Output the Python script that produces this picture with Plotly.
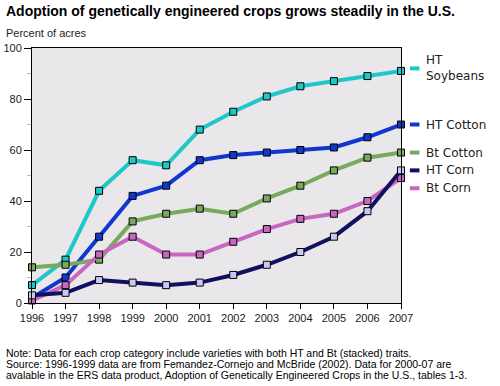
import plotly.graph_objects as go

years = list(range(1996, 2008))
ht_soybeans = [7, 17, 44, 56, 54, 68, 75, 81, 85, 87, 89, 91]
ht_cotton = [2, 10, 26, 42, 46, 56, 58, 59, 60, 61, 65, 70]
bt_cotton = [14, 15, 17, 32, 35, 37, 35, 41, 46, 52, 57, 59]
bt_corn = [1, 7, 19, 26, 19, 19, 24, 29, 33, 35, 40, 49]
ht_corn = [3, 4, 9, 8, 7, 8, 11, 15, 20, 26, 36, 52]

series = [
    ("HT<br>Soybeans", ht_soybeans, "#1ec8c8", "#1ec8c8", 92),
    ("HT Cotton", ht_cotton, "#1038d0", "#1038d0", 70),
    ("Bt Cotton", bt_cotton, "#7aa85c", "#7aa85c", 59),
    ("Bt Corn", bt_corn, "#c866c0", "#c866c0", 45),
    ("HT Corn", ht_corn, "#101060", "#c8c8f4", 52),
]

note_lines = [
    "Note: Data for each crop category include varieties with both HT and Bt (stacked) traits.",
    "Source: 1996-1999 data are from Femandez-Cornejo and McBride (2002). Data for 2000-07 are",
    "avalable in the ERS data product, Adoption of Genetically Engineered Crops in the U.S., tables 1-3.",
]

PLOT_H = 255.0
PLOT_W = 369.0

def py(px_from_top):
    return (303 - px_from_top) / PLOT_H

fig = go.Figure()
for name, vals, lc, mc, ly in series:
    fig.add_trace(go.Scatter(
        x=years, y=vals, mode="lines+markers", name=name,
        line=dict(color=lc, width=4),
        marker=dict(symbol="square", size=7, color=mc, line=dict(color="black", width=1)),
        cliponaxis=False, showlegend=False,
    ))
    fig.add_shape(type="line", xref="paper", yref="y", x0=1.024, x1=1.050, y0=ly, y1=ly,
                  line=dict(color=lc, width=4))
    fig.add_annotation(xref="paper", yref="y", x=1.062, y=ly, text=name, showarrow=False,
                       xanchor="left", yanchor="middle", align="left",
                       font=dict(family="DejaVu Sans", size=12, color="#222"))

x_left = (4 - 32) / PLOT_W
fig.add_annotation(xref="paper", yref="paper", x=x_left, y=py(11), xanchor="left", yanchor="middle",
                   text="<b>Adoption of genetically engineered crops grows steadily in the U.S.</b>",
                   showarrow=False, font=dict(family="Liberation Sans", size=14, color="black"))
fig.add_annotation(xref="paper", yref="paper", x=x_left, y=py(33.5), xanchor="left", yanchor="middle",
                   text="Percent of acres", showarrow=False,
                   font=dict(family="Liberation Sans", size=11, color="#222"))
for i, line in enumerate(note_lines):
    fig.add_annotation(xref="paper", yref="paper", x=x_left, y=py(352.5 + 11 * i),
                       xanchor="left", yanchor="middle", align="left", showarrow=False,
                       text=line, font=dict(family="Liberation Sans", size=10.5, color="black"))

fig.update_layout(
    width=500, height=386,
    margin=dict(l=32, r=99, t=48, b=83),
    paper_bgcolor="white", plot_bgcolor="#e9e7e9",
    xaxis=dict(range=[1996, 2007], tickvals=years, showgrid=False, zeroline=False, automargin=False,
               showline=True, linecolor="black", linewidth=1, mirror=True,
               ticks="outside", ticklen=5, tickcolor="black",
               tickfont=dict(family="Liberation Sans", size=11, color="#222")),
    yaxis=dict(range=[0, 100], tickvals=[0, 20, 40, 60, 80, 100], showgrid=False, zeroline=False,
               automargin=False,
               showline=True, linecolor="black", linewidth=1, mirror=True,
               ticks="outside", ticklen=7, tickcolor="black",
               minor=dict(tickvals=[10, 30, 50, 70, 90], ticks="outside", ticklen=4, tickcolor="#c0c0c0"),
               tickfont=dict(family="Liberation Sans", size=11, color="#222")),
)

fig.write_html("out.html", config={"displayModeBar": False},
               post_script="document.body.style.margin='0';")
